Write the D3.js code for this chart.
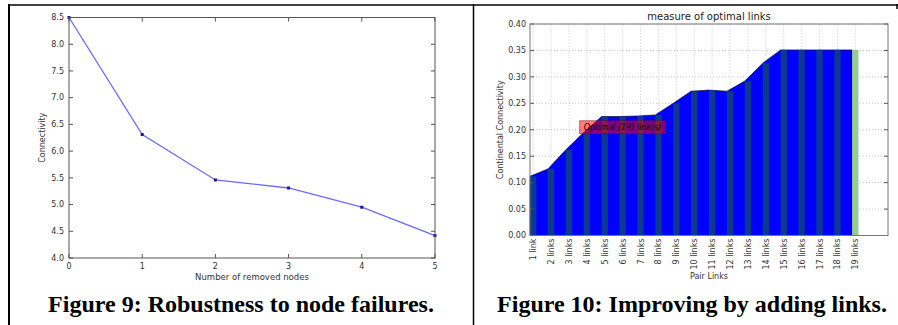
<!DOCTYPE html>
<html lang="en">
<head>
  <meta charset="UTF-8">
  <title>Figures 9 and 10</title>
  <script src="https://d3js.org/d3.v7.min.js"></script>
  <style>
    body { margin: 0; background: #fff; }
    svg { display: block; }
    .tick-label { font-family: "DejaVu Sans", sans-serif; font-size: 8px; fill: #333; }
    .axis-label { font-family: "DejaVu Sans", sans-serif; font-size: 8px; fill: #333; }
    .caption { font-family: "Liberation Serif", "Times New Roman", serif; font-weight: bold; font-size: 24px; fill: #000; }
  </style>
</head>
<body>
<svg width="898" height="325"></svg>
<script>
  // figure 9 : robustness
  const removedNodes = [0, 1, 2, 3, 4, 5];
  const connectivity = [8.5, 6.31, 5.46, 5.31, 4.95, 4.42];
  const connTicks = [4.0, 4.5, 5.0, 5.5, 6.0, 6.5, 7.0, 7.5, 8.0, 8.5];

  // figure 10 : adding links
  const pairLinks = ["1 link", "2 links", "3 links", "4 links", "5 links", "6 links", "7 links",
    "8 links", "9 links", "10 links", "11 links", "12 links", "13 links", "14 links",
    "15 links", "16 links", "17 links", "18 links", "19 links"];
  const contConnectivity = [0.112, 0.126, 0.162, 0.195, 0.225, 0.225, 0.226, 0.228, 0.25,
    0.273, 0.275, 0.273, 0.292, 0.326, 0.351, 0.351, 0.351, 0.351, 0.351];
  const contTicks = [0.00, 0.05, 0.10, 0.15, 0.20, 0.25, 0.30, 0.35, 0.40];
  const optimalIndex = 18;
  const barWidth = 0.35;

  const svg = d3.select("svg");

  // table borders
  const border = svg.append("g").attr("stroke", "#000").attr("fill", "none");
  border.append("line").attr("x1", 8).attr("x2", 898).attr("y1", 5).attr("y2", 5).attr("stroke-width", 1.5);
  border.append("line").attr("x1", 9).attr("x2", 9).attr("y1", 4).attr("y2", 325).attr("stroke-width", 2);
  border.append("line").attr("x1", 473.5).attr("x2", 473.5).attr("y1", 4).attr("y2", 325).attr("stroke-width", 1.5);
  border.append("line").attr("x1", 897).attr("x2", 897).attr("y1", 4).attr("y2", 9).attr("stroke-width", 1.5);

  // ---------- Figure 9 ----------
  {
    const x = d3.scaleLinear().domain([0, 5]).range([69, 435]);
    const y = d3.scaleLinear().domain([4, 8.5]).range([258, 17.5]);
    const g = svg.append("g");

    // ticks (inward, all four sides)
    g.selectAll(".xt").data(removedNodes).join("g").each(function (d) {
      const s = d3.select(this);
      s.append("line").attr("x1", x(d)).attr("x2", x(d)).attr("y1", y(4)).attr("y2", y(4) - 4).attr("stroke", "#555");
      s.append("line").attr("x1", x(d)).attr("x2", x(d)).attr("y1", y(8.5)).attr("y2", y(8.5) + 4).attr("stroke", "#555");
      s.append("text").attr("class", "tick-label").attr("x", x(d)).attr("y", y(4) + 11)
        .attr("text-anchor", "middle").text(d);
    });
    g.selectAll(".yt").data(connTicks).join("g").each(function (d) {
      const s = d3.select(this);
      s.append("line").attr("x1", x(0)).attr("x2", x(0) + 4).attr("y1", y(d)).attr("y2", y(d)).attr("stroke", "#555");
      s.append("line").attr("x1", x(5)).attr("x2", x(5) - 4).attr("y1", y(d)).attr("y2", y(d)).attr("stroke", "#555");
      s.append("text").attr("class", "tick-label").attr("x", x(0) - 5).attr("y", y(d)).attr("dy", "0.35em")
        .attr("text-anchor", "end").text(d.toFixed(1));
    });

    g.append("path")
      .datum(removedNodes.map((d, i) => [d, connectivity[i]]))
      .attr("fill", "none").attr("stroke", "#6a6aff").attr("stroke-width", 1.3)
      .attr("d", d3.line().x(d => x(d[0])).y(d => y(d[1])));

    g.selectAll(".pt").data(removedNodes).join("rect")
      .attr("x", (d) => x(d) - 1.5).attr("y", (d, i) => y(connectivity[i]) - 1.5)
      .attr("width", 3).attr("height", 3).attr("fill", "#1a1a80");

    g.append("rect").attr("x", x(0)).attr("y", y(8.5)).attr("width", x(5) - x(0)).attr("height", y(4) - y(8.5))
      .attr("fill", "none").attr("stroke", "#555").attr("stroke-width", 1);

    g.append("text").attr("class", "axis-label").attr("x", (x(0) + x(5)) / 2).attr("y", 280)
      .attr("text-anchor", "middle").style("font-size", "8.5px").text("Number of removed nodes");
    g.append("text").attr("class", "axis-label")
      .attr("transform", `translate(45,${(y(4) + y(8.5)) / 2}) rotate(-90)`)
      .attr("text-anchor", "middle").text("Connectivity");

    g.append("text").attr("class", "caption").attr("x", 241).attr("y", 312)
      .attr("text-anchor", "middle").text("Figure 9: Robustness to node failures.");
  }

  // ---------- Figure 10 ----------
  {
    const x = d3.scaleLinear().domain([0, 20]).range([530, 888]);
    const y = d3.scaleLinear().domain([0, 0.4]).range([235.5, 24]);
    const g = svg.append("g");

    // grid
    const grid = g.append("g").attr("stroke", "#bbb").attr("stroke-width", 0.8).attr("stroke-dasharray", "1,2");
    pairLinks.forEach((d, i) => {
      grid.append("line").attr("x1", x(i + barWidth / 2)).attr("x2", x(i + barWidth / 2))
        .attr("y1", y(0)).attr("y2", y(0.4));
    });
    contTicks.forEach(d => {
      grid.append("line").attr("x1", x(0)).attr("x2", x(20)).attr("y1", y(d)).attr("y2", y(d));
    });

    // filled area
    const areaPts = contConnectivity.map((v, i) => [i, v]);
    g.append("path").datum(areaPts)
      .attr("fill", "#0000ff").attr("stroke", "#000").attr("stroke-width", 0.6)
      .attr("d", d3.area().x(d => x(d[0])).y0(y(0)).y1(d => y(d[1])));

    // bars
    g.selectAll(".bar").data(contConnectivity).join("rect")
      .attr("x", (d, i) => x(i)).attr("width", x(barWidth) - x(0))
      .attr("y", d => y(d)).attr("height", d => y(0) - y(d))
      .attr("fill", (d, i) => i === optimalIndex ? "#92cc92" : "#0b3a8e");

    // annotation
    const ann = g.append("g");
    const annRect = ann.append("rect");
    const annText = ann.append("text")
      .attr("x", x(3)).attr("y", y(0.2))
      .style("font-family", "'DejaVu Sans', sans-serif").style("font-size", "8px").style("font-style", "italic")
      .attr("fill", "#000")
      .text(`Optimal (${optimalIndex + 1}) link(s)`);
    const bb = annText.node().getBBox();
    annRect.attr("x", bb.x - 4).attr("y", bb.y - 2).attr("width", bb.width + 8).attr("height", bb.height + 4)
      .attr("fill", "#ff0000").attr("fill-opacity", 0.5).attr("stroke", "#800000").attr("stroke-opacity", 0.5);

    // ticks
    contTicks.forEach(d => {
      g.append("line").attr("x1", x(0)).attr("x2", x(0) + 4).attr("y1", y(d)).attr("y2", y(d)).attr("stroke", "#555");
      g.append("line").attr("x1", x(20)).attr("x2", x(20) - 4).attr("y1", y(d)).attr("y2", y(d)).attr("stroke", "#555");
      g.append("text").attr("class", "tick-label").attr("x", x(0) - 4).attr("y", y(d)).attr("dy", "0.35em")
        .attr("text-anchor", "end").text(d.toFixed(2));
    });
    pairLinks.forEach((d, i) => {
      const cx = x(i + barWidth / 2);
      g.append("text").attr("class", "tick-label")
        .attr("transform", `translate(${cx + 3},${y(0) + 3}) rotate(-90)`)
        .attr("text-anchor", "end").text(d);
    });

    g.append("rect").attr("x", x(0)).attr("y", y(0.4)).attr("width", x(20) - x(0)).attr("height", y(0) - y(0.4))
      .attr("fill", "none").attr("stroke", "#777").attr("stroke-width", 1);

    g.append("text").attr("x", (x(0) + x(20)) / 2).attr("y", 20)
      .attr("text-anchor", "middle").style("font-family", "'DejaVu Sans', sans-serif").style("font-size", "10px")
      .attr("fill", "#222").text("measure of optimal links");
    g.append("text").attr("class", "axis-label").attr("x", (x(0) + x(20)) / 2).attr("y", 279)
      .attr("text-anchor", "middle").text("Pair Links");
    g.append("text").attr("class", "axis-label")
      .attr("transform", `translate(503,${(y(0) + y(0.4)) / 2}) rotate(-90)`)
      .attr("text-anchor", "middle").text("Continental Connectivity");

    g.append("text").attr("class", "caption").attr("x", 692).attr("y", 312)
      .attr("text-anchor", "middle").text("Figure 10: Improving by adding links.");
  }
</script>
</body>
</html>
